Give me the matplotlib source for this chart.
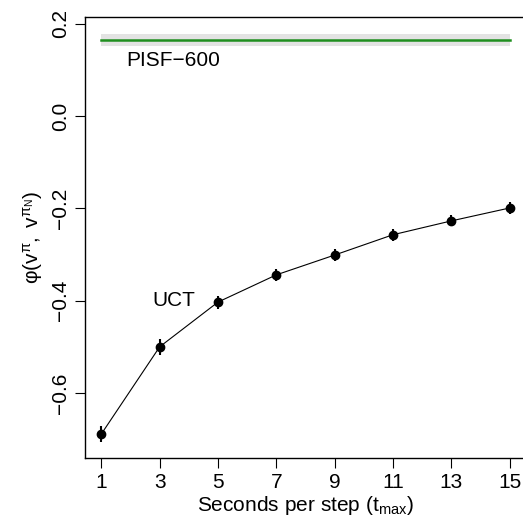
import matplotlib
matplotlib.use("Agg")
import matplotlib.pyplot as plt

plt.rcParams['font.family'] = ['Liberation Sans', 'DejaVu Sans']
plt.rcParams['mathtext.fontset'] = 'custom'
plt.rcParams['mathtext.rm'] = 'Liberation Sans'
plt.rcParams['mathtext.it'] = 'Liberation Sans'
plt.rcParams['mathtext.bf'] = 'Liberation Sans:bold'

t_max = [1, 3, 5, 7, 9, 11, 13, 15]
uct_mean = [-0.689, -0.500, -0.403, -0.344, -0.301, -0.257, -0.227, -0.199]
uct_err = [0.018, 0.017, 0.014, 0.013, 0.013, 0.013, 0.012, 0.012]
pisf_mean = 0.165
pisf_lo = 0.153
pisf_hi = 0.178
x_ticks = [1, 3, 5, 7, 9, 11, 13, 15]
y_ticks = [-0.6, -0.4, -0.2, 0.0, 0.2]
y_ticklabels = ['\u22120.6', '\u22120.4', '\u22120.2', '0.0', '0.2']

fig = plt.figure(figsize=(5.23, 5.16), dpi=100)
ax = fig.add_axes([85/523, 58/516, 441/523, 441/516])

ax.fill_between([t_max[0], t_max[-1]], [pisf_lo]*2, [pisf_hi]*2, color='#e3e3e3', lw=0)
ax.plot([t_max[0], t_max[-1]], [pisf_mean]*2, color='#1f8f1f', lw=1.8)

ax.errorbar(t_max, uct_mean, yerr=uct_err, fmt='o', color='black', ms=6, lw=1.5, capsize=0, zorder=3)
ax.plot(t_max, uct_mean, color='black', lw=0.8, zorder=2)

ax.text(1.85, 0.12, 'PISF\u2212600', fontsize=15, va='center', ha='left')
ax.text(2.75, -0.4, 'UCT', fontsize=15, va='center', ha='left')

ax.set_xlim(0.44, 15.56)
ax.set_ylim(-0.741, 0.215)
ax.set_xticks(x_ticks)
ax.set_xticklabels([str(v) for v in x_ticks])
ax.set_yticks(y_ticks)
ax.set_yticklabels(y_ticklabels, rotation=90, va='center')
ax.tick_params(direction='out', length=7, width=0.8, labelsize=15, pad=4)
for s in ax.spines.values():
    s.set_linewidth(1.0)

ax.set_xlabel(r'Seconds per step (t$_{\mathrm{max}}$)', fontsize=15, labelpad=1)
ax.set_ylabel(r'$\varphi(\mathrm{v}^{\pi},\ \mathrm{v}^{\pi_N})$', fontsize=15, labelpad=4)

fig.savefig('out.png', dpi=100)
